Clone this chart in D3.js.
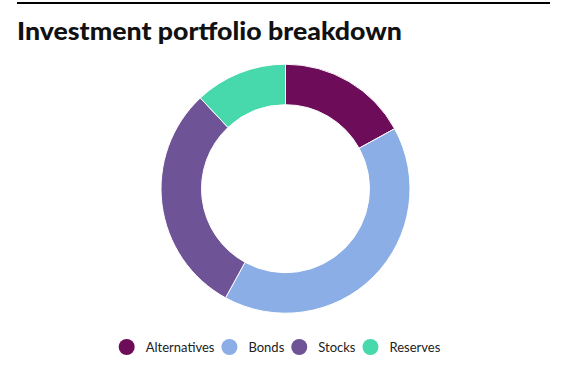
<!DOCTYPE html>
<html>
<head>
<meta charset="utf-8">
<script src="https://cdn.jsdelivr.net/npm/d3@7"></script>
<style>
  body { margin: 0; background: #fff; }
  svg { display: block; font-family: Lato, "Open Sans", sans-serif; }
</style>
</head>
<body>
<svg id="chart" width="561" height="365"></svg>
<script>
var categories = ["Alternatives", "Bonds", "Stocks", "Reserves"];
var values = [17, 41, 30, 12];
var colors = ["#6d0c59", "#8aaee5", "#6f5397", "#47d8ab"];

var svg = d3.select("#chart");
var width = 561, height = 365;

// top rule and title
svg.append("rect")
    .attr("x", 17).attr("y", 2)
    .attr("width", 533).attr("height", 2)
    .attr("fill", "#000");
svg.append("text")
    .attr("x", 17).attr("y", 40)
    .attr("font-size", 24)
    .attr("font-weight", 900)
    .attr("fill", "#111")
    .attr("textLength", 385)
    .attr("lengthAdjust", "spacingAndGlyphs")
    .text("Investment portfolio breakdown");

var data = categories.map(function (c, i) { return { label: c, value: values[i] }; });
var color = d3.scaleOrdinal().domain(categories).range(colors);

var pie = d3.pie().sort(null).value(function (d) { return d.value; });
var arc = d3.arc().innerRadius(84).outerRadius(124.5);

var g = svg.append("g").attr("transform", "translate(285.5,188.7)");
g.selectAll("path")
    .data(pie(data))
    .enter().append("path")
    .attr("d", arc)
    .attr("fill", function (d) { return color(d.data.label); })
    .attr("stroke", "#fff")
    .attr("stroke-width", 1);

// legend
var legend = svg.append("g");
var items = legend.selectAll("g.item")
    .data(categories)
    .enter().append("g").attr("class", "item");
items.append("circle")
    .attr("r", 8)
    .attr("cy", 0)
    .attr("fill", function (d) { return color(d); });
items.append("text")
    .attr("x", 19)
    .attr("dy", "0.35em")
    .attr("font-size", 13)
    .attr("fill", "#222")
    .text(function (d) { return d; });

var x = 0;
items.each(function () {
    var w = d3.select(this).select("text").node().getComputedTextLength();
    d3.select(this).attr("transform", "translate(" + (x + 8) + ",0)");
    x += 8 + 19 + w + 7;
});
var total = x - 7;
legend.attr("transform", "translate(" + (117 + (325 - total) / 2) + ",347)");
</script>
</body>
</html>
